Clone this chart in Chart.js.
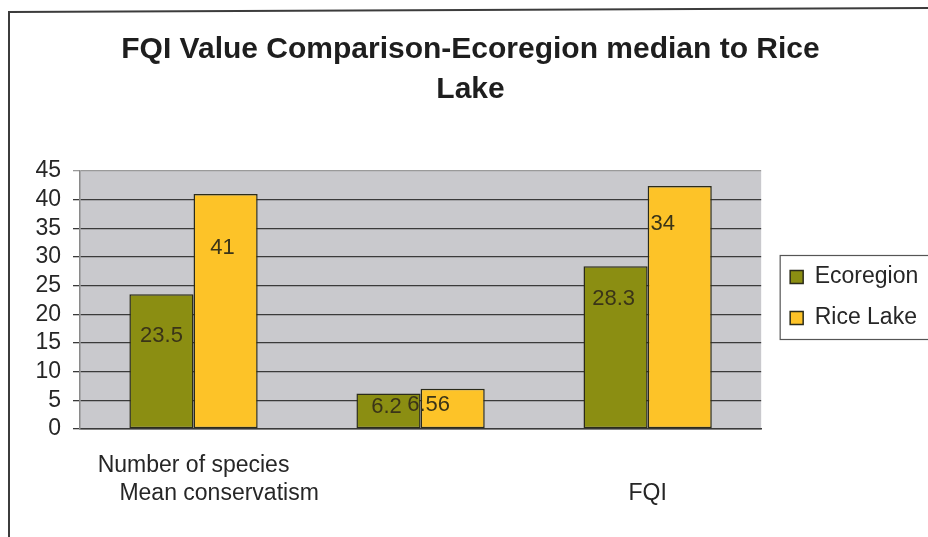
<!DOCTYPE html>
<html>
<head>
<meta charset="utf-8">
<script src="https://cdn.jsdelivr.net/npm/chart.js@4.4.1/dist/chart.umd.min.js"></script>
<style>
  html, body { margin: 0; padding: 0; background: #ffffff; }
  #wrap { width: 928px; height: 537px; position: relative; }
</style>
</head>
<body>
<div id="wrap"><canvas id="c" width="928" height="537"></canvas></div>
<script>
// ---- data ----
const categories = ["Number of species", "Mean conservatism", "FQI"];
const seriesNames = ["Ecoregion", "Rice Lake"];
// bar heights as drawn in the picture
const ecoregionValues = [23.5, 6.2, 28.4];
const riceLakeValues = [41, 7.0, 42.4];
// value labels as printed on the bars
const ecoregionLabels = ["23.5", "6.2", "28.3"];
const riceLakeLabels = ["41", "6.56", "34"];
const yTicks = [0, 5, 10, 15, 20, 25, 30, 35, 40, 45];
const titleLines = ["FQI Value Comparison-Ecoregion median to Rice", "Lake"];

const FONT = "'Liberation Sans', Arial, sans-serif";
const TEXT = "#262626";

// label placement styling (pixel offsets from bar top / centre)
const labelStyle = [
  [{dy: 42, dx: 0}, {dy: 'mid', dx: -2}, {dy: 33, dx: -2}],
  [{dy: 54, dx: -3}, {dy: 'mid', dx: -24}, {dy: 38, dx: -17}]
];

const frame = {
  id: 'frame',
  beforeDraw(chart) {
    const ctx = chart.ctx, a = chart.chartArea;
    ctx.save();
    ctx.fillStyle = '#ffffff';
    ctx.fillRect(0, 0, chart.width, chart.height);
    ctx.strokeStyle = '#3c3c3c';
    ctx.lineWidth = 2;
    ctx.beginPath();
    ctx.moveTo(9, 537);
    ctx.lineTo(9, 12);
    ctx.lineTo(928, 8);
    ctx.stroke();
    ctx.fillStyle = '#c9c9cd';
    ctx.fillRect(a.left, a.top, a.right - a.left, a.bottom - a.top);
    ctx.restore();
  },
  afterDraw(chart) {
    const ctx = chart.ctx;
    const lg = chart.legend;
    if (lg && lg.legendHitBoxes && lg.legendHitBoxes.length) {
      const hb = lg.legendHitBoxes;
      const x0 = hb[0].left - 10;
      const y0 = hb[0].top - 10;
      const last = hb[hb.length - 1];
      const y1 = last.top + last.height + 10;
      ctx.save();
      ctx.strokeStyle = '#555555';
      ctx.lineWidth = 1.2;
      ctx.strokeRect(x0, y0, 960 - x0, y1 - y0);
      ctx.restore();
    }
  }
};

const valueLabels = {
  id: 'valueLabels',
  afterDatasetsDraw(chart) {
    const ctx = chart.ctx;
    const texts = [ecoregionLabels, riceLakeLabels];
    ctx.save();
    ctx.font = "22px " + FONT;
    ctx.fillStyle = '#3a3418';
    ctx.textAlign = 'center';
    ctx.textBaseline = 'middle';
    chart.data.datasets.forEach((ds, di) => {
      const meta = chart.getDatasetMeta(di);
      meta.data.forEach((bar, i) => {
        const st = labelStyle[di][i];
        const y = st.dy === 'mid' ? (bar.y + bar.base) / 2 - 4 : bar.y + st.dy;
        ctx.fillText(texts[di][i], bar.x + st.dx, y);
      });
    });
    ctx.restore();
  }
};

const xTickLabels = [
  ["Number of species", "\u2007\u2007\u2007  Mean conservatism"],
  "",
  ["", "FQI"]
];

new Chart(document.getElementById('c'), {
  type: 'bar',
  data: {
    labels: categories,
    datasets: [
      {
        label: seriesNames[0],
        data: ecoregionValues,
        backgroundColor: '#8b8e12',
        borderColor: '#2b2b1a',
        borderWidth: 1.5,
        borderSkipped: false
      },
      {
        label: seriesNames[1],
        data: riceLakeValues,
        backgroundColor: '#fdc328',
        borderColor: '#2b2b1a',
        borderWidth: 1.5,
        borderSkipped: false
      }
    ]
  },
  options: {
    responsive: false,
    animation: false,
    devicePixelRatio: 1,
    layout: { padding: { left: 18, right: 5, top: 0, bottom: 0 } },
    datasets: { bar: { categoryPercentage: 0.565, barPercentage: 1.0 } },
    scales: {
      x: {
        afterFit: (s) => { s.height = 108; },
        grid: { display: false },
        border: { display: true, color: '#3a3a3a', width: 1.5 },
        ticks: {
          color: TEXT,
          font: { family: FONT, size: 23, lineHeight: 1.22 },
          padding: 15,
          maxRotation: 0,
          autoSkip: false,
          callback: (v, i) => xTickLabels[i]
        }
      },
      y: {
        min: 0,
        max: 45,
        afterFit: (s) => { s.width = 62; },
        afterBuildTicks: (s) => { s.ticks = yTicks.map(v => ({ value: v })); },
        grid: {
          color: (c) => c.tick && c.tick.value === 45 ? '#9a9a9a' : '#3a3a3a',
          lineWidth: 1.3,
          tickLength: 7,
          drawTicks: true
        },
        border: { display: true, color: '#8a8a8a', width: 1.5 },
        ticks: {
          color: TEXT,
          font: { family: FONT, size: 23 },
          padding: 12,
          autoSkip: false,
          stepSize: 5
        }
      },
      gap: {
        type: 'linear',
        position: 'right',
        display: true,
        afterFit: (s) => { s.width = 11; },
        grid: { display: false },
        border: { display: false },
        ticks: { display: false }
      }
    },
    plugins: {
      title: {
        display: true,
        text: titleLines,
        color: '#1e1e1e',
        font: { family: FONT, size: 30, weight: 'bold', lineHeight: 1.333 },
        padding: { top: 30, bottom: 61 }
      },
      legend: {
        display: true,
        position: 'right',
        align: 'center',
        title: {
          display: true,
          text: ' ',
          font: { family: FONT, size: 10, lineHeight: 5.8 },
          padding: 0
        },
        labels: {
          color: TEXT,
          font: { family: FONT, size: 23 },
          boxWidth: 13,
          boxHeight: 13,
          padding: 18,
          useBorderRadius: false
        }
      },
      tooltip: { enabled: false }
    }
  },
  plugins: [frame, valueLabels]
});
</script>
</body>
</html>
